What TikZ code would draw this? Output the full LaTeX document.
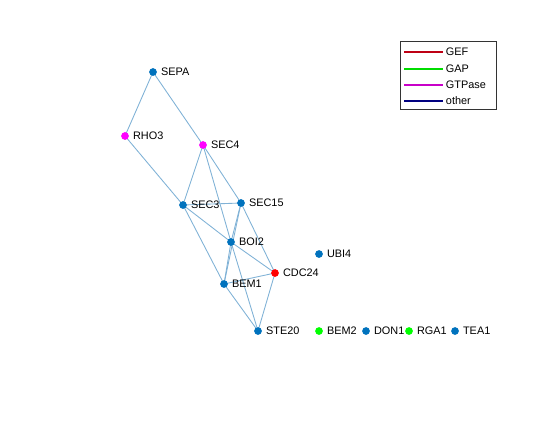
\documentclass[tikz,border=0pt]{standalone}
\usepackage{fontspec}
\setmainfont{Liberation Sans}
\usetikzlibrary{backgrounds}
\definecolor{edgeblue}{RGB}{128,178,214}
\definecolor{nodeblue}{RGB}{0,114,189}
\definecolor{dotred}{RGB}{255,0,0}
\definecolor{dotgreen}{RGB}{0,255,0}
\definecolor{dotmag}{RGB}{255,0,255}
\definecolor{gefred}{RGB}{190,0,20}
\definecolor{gapgreen}{RGB}{0,220,0}
\definecolor{gtpmag}{RGB}{200,0,200}
\definecolor{othernavy}{RGB}{0,0,128}
\tikzset{
  gene/.style={circle,fill=#1,inner sep=0pt,minimum size=4.4pt},
  lab/.style={right,font=\fontsize{6.2}{7}\selectfont,inner sep=2pt},
  link/.style={edgeblue,line width=0.5pt},
  key/.style={line width=0.6pt}
}
\begin{document}
\begin{tikzpicture}[x=0.02cm,y=-0.02cm]
    \useasboundingbox (0,0) rectangle (560,420);
    \node[gene=nodeblue] (SEPA) at (153,72) {};
    \node[gene=dotmag] (RHO3) at (125,136) {};
    \node[gene=dotmag] (SEC4) at (203,145) {};
    \node[gene=nodeblue] (SEC3) at (183,205) {};
    \node[gene=nodeblue] (SEC15) at (241,203) {};
    \node[gene=nodeblue] (BOI2) at (231,242) {};
    \node[gene=dotred] (CDC24) at (275,273) {};
    \node[gene=nodeblue] (BEM1) at (224,284) {};
    \node[gene=nodeblue] (STE20) at (258,331) {};
    \node[gene=nodeblue] (UBI4) at (319,254) {};
    \node[gene=dotgreen] (BEM2) at (319,331) {};
    \node[gene=nodeblue] (DON1) at (366,331) {};
    \node[gene=dotgreen] (RGA1) at (409,331) {};
    \node[gene=nodeblue] (TEA1) at (455,331) {};
    \foreach \g in {SEPA,RHO3,SEC4,SEC3,SEC15,BOI2,CDC24,BEM1,STE20,UBI4,BEM2,DON1,RGA1,TEA1}
        \node[lab] at (\g.east) {\g};
    \begin{scope}[on background layer]
    \foreach \a/\b in {SEPA/RHO3,SEPA/SEC4,RHO3/SEC3,SEC4/SEC3,SEC4/BOI2,SEC4/SEC15,
        SEC3/SEC15,SEC3/BOI2,SEC3/BEM1,SEC15/BOI2,SEC15/BEM1,SEC15/CDC24,BOI2/BEM1,
        BOI2/CDC24,BOI2/STE20,BEM1/CDC24,BEM1/STE20,CDC24/STE20}
        \draw[link] (\a.center) -- (\b.center);
    \end{scope}
    % legend
    \node[draw=black!80,line width=0.5pt,minimum width=1.92cm,minimum height=1.36cm,inner sep=0pt] (legend) at (448,75) {};
    \foreach \t/\c/\y in {GEF/gefred/52,GAP/gapgreen/69,GTPase/gtpmag/85,other/othernavy/101}{
        \coordinate (k\t) at (404,\y);
        \coordinate (e\t) at (443,\y);
        \draw[key,draw=\c] (k\t) -- (e\t);
        \node[lab,inner sep=1.5pt] at (e\t) {\t};
    }
\end{tikzpicture}
\end{document}
